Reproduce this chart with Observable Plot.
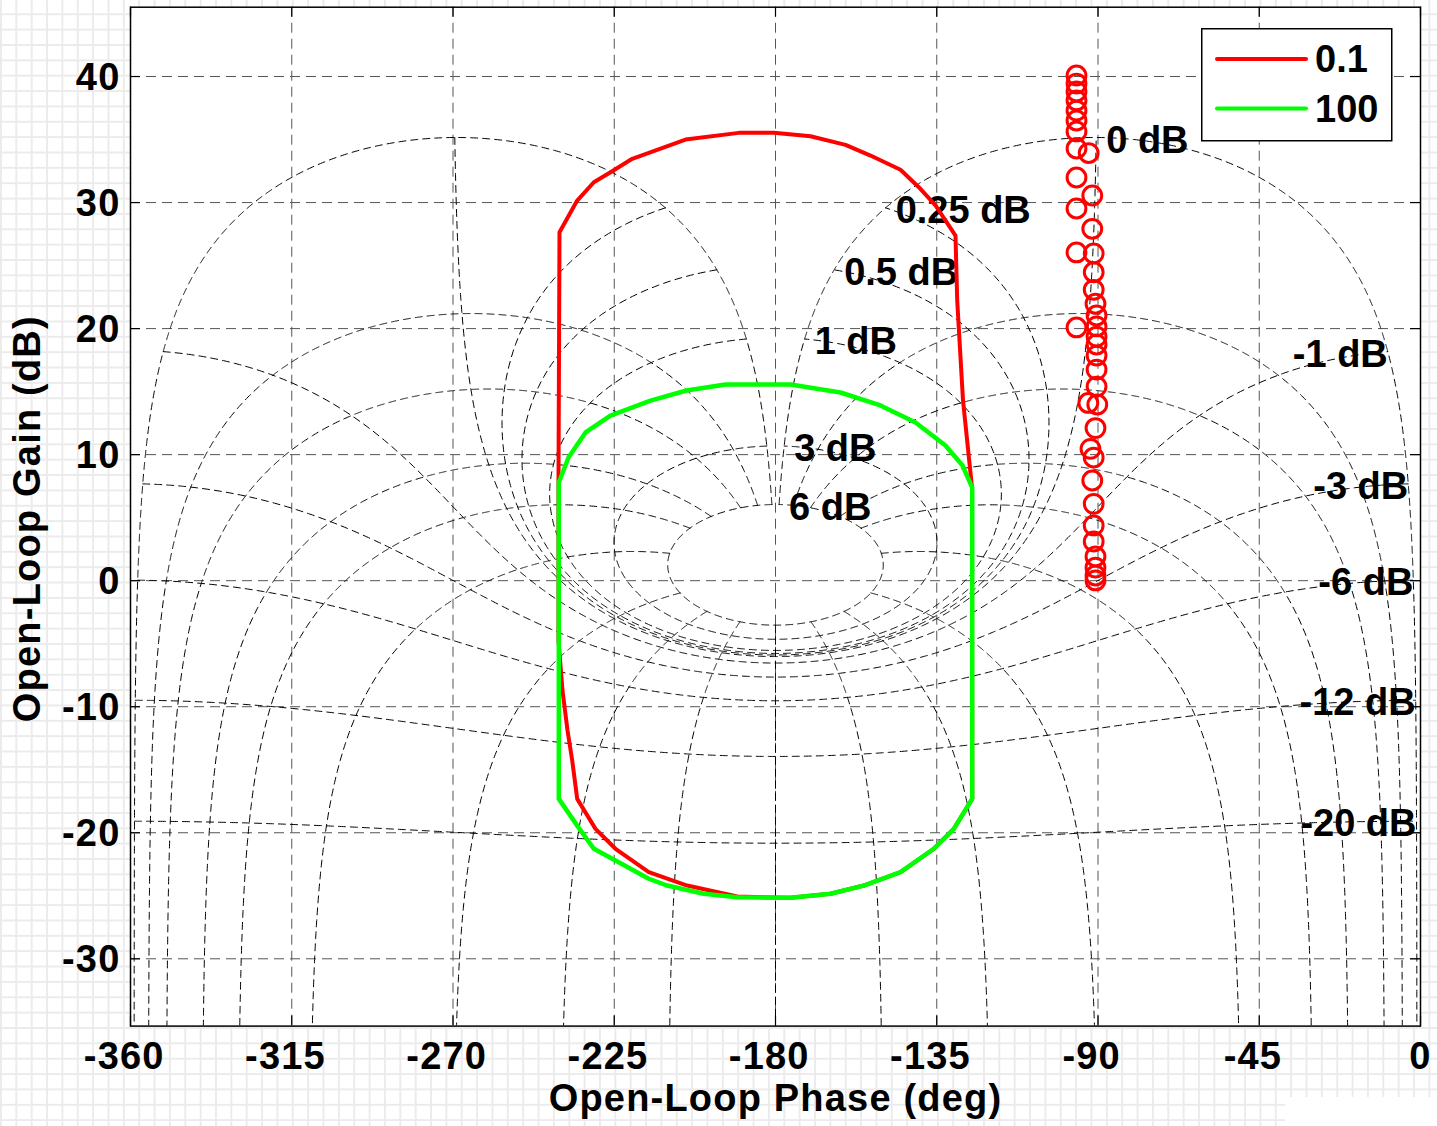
<!DOCTYPE html>
<html>
<head>
<meta charset="utf-8">
<script src="https://cdn.jsdelivr.net/npm/d3@7"></script>
<script src="https://cdn.jsdelivr.net/npm/@observablehq/plot@0.6"></script>
<style>
html,body{margin:0;padding:0;}
body{width:1437px;height:1126px;position:relative;overflow:hidden;background-color:#fff;
background-image:linear-gradient(to right,#ebebeb 2px,transparent 2px),linear-gradient(to bottom,#ebebeb 2px,transparent 2px);
background-size:15.37px 15.37px;background-position:0 13.3px;}
#chart{position:absolute;left:0;top:0;}
#legend{position:absolute;left:1201px;top:28px;}
#cover{position:absolute;left:1285px;top:1097px;width:152px;height:29px;background:#fff;}
</style>
</head>
<body>
<div id="cover"></div>
<div id="chart"></div>
<div id="legend"></div>
<script>
// ---------- data ----------
const seriesNames = ["0.1", "100"];
const xTicks = [-360, -315, -270, -225, -180, -135, -90, -45, 0];
const yTicks = [-30, -20, -10, 0, 10, 20, 30, 40];

// series "0.1" (red) – open-loop phase (deg) / gain (dB)
const redPhase = [-240.28,-235.34,-230.70,-225.57,-219.99,-205.11,-190.24,-180.47,-170.23,-160.46,-153.49,-145.11,-140.01,-135.35,-129.77,-129.29,-127.67,-125.16,-125.10,-130.24,-135.82,-145.11,-155.36,-164.65,-175.81,-180.47,-190.69,-204.64,-215.36,-224.65,-230.23,-235.34,-236.73,-238.04,-239.44,-240.56,-240.56,-240.28];
const redGain  = [27.65,30.16,31.61,32.49,33.47,35.00,35.53,35.53,35.26,34.58,33.73,32.60,31.22,29.77,27.38,22.23,14.29,7.39,-17.31,-19.69,-21.27,-23.13,-24.19,-24.84,-25.16,-25.14,-25.06,-24.19,-23.13,-21.27,-19.69,-17.31,-14.27,-11.89,-8.72,-4.75,7.95,27.65];

// series "100" (green)
const greenPhase = [-240.47,-237.77,-233.02,-226.05,-214.88,-204.84,-193.95,-175.81,-161.86,-150.70,-140.93,-132.56,-127.81,-125.10,-125.10,-130.24,-135.82,-145.11,-155.36,-164.65,-175.81,-180.47,-190.69,-200.01,-210.22,-215.36,-224.65,-230.70,-235.34,-240.47,-240.47];
const greenGain  = [7.79,9.77,11.76,13.10,14.29,15.09,15.56,15.56,14.93,13.90,12.55,10.72,9.14,7.39,-17.31,-19.69,-21.27,-23.13,-24.19,-24.84,-25.16,-25.16,-25.11,-24.84,-24.19,-23.65,-22.20,-21.27,-19.43,-17.31,7.79];

// red circle markers
const circlePhase = [-96.0,-96.0,-96.0,-96.0,-96.0,-96.0,-96.0,-96.0,-96.0,-96.0,-96.0,-96.0,
  -92.6,-91.6,-91.6,-91.2,-91.2,-91.2,-90.7,-90.4,-90.4,-90.4,-90.4,-90.4,-90.4,-90.4,-92.7,-90.2,-90.7,-92.1,-91.2,-91.6,-91.2,-91.2,-91.2,-90.7,-90.7,-90.7,-90.7];
const circleGain = [40.08,39.44,38.81,38.10,37.30,36.51,35.64,34.29,31.99,29.53,26.04,20.09,
  33.93,30.56,27.92,25.96,24.47,23.08,21.97,21.04,20.17,19.37,18.74,17.86,16.75,15.40,14.10,13.98,12.11,10.46,9.77,7.95,6.10,4.38,3.11,1.92,1.04,0.41,0.02];

// Nichols chart grid levels (closed-loop phase in deg, closed-loop gain in dB)
const clPhaseLevels = [1, 5, 10, 20, 30, 50, 90, 120, 150, 180];
const clGainLevels = [6, 3, 1, 0.5, 0.25, 0, -1, -3, -6, -12, -20, -40];

// ---------- build ----------
const FONT = '"Liberation Sans", Arial, Helvetica, sans-serif';
const red = redPhase.map((p, i) => ({x: p, y: redGain[i]}));
const green = greenPhase.map((p, i) => ({x: p, y: greenGain[i]}));
const circles = circlePhase.map((p, i) => ({x: p, y: circleGain[i]}));

const rad = Math.PI / 180;
function openLoop(mag, pDeg) {
  const p = pDeg * rad;
  const wr = 1 - mag * Math.cos(p), wi = -mag * Math.sin(p);
  const gain = 20 * Math.log10(mag / Math.hypot(wr, wi));
  let ph = (pDeg - Math.atan2(wi, wr) / rad) % 360;
  if (ph < 0) ph += 360;
  return {ph, gain};
}
const gSamples = [...d3.range(6, 1, -0.05), ...d3.range(1, -1, -0.002), ...d3.range(-1, -6, -0.02), ...d3.range(-6, -40, -0.2), -40];
const pSamples = [...d3.range(1, 5, 0.1), ...d3.range(5, 355, 0.5), ...d3.range(355, 359, 0.1), 359];
const grid = [];
clPhaseLevels.forEach((p) => {
  gSamples.forEach((g) => {
    const o = openLoop(Math.pow(10, g / 20), p);
    grid.push({id: "pa" + p, x: o.ph - 360, y: o.gain});
  });
  gSamples.forEach((g) => {
    const o = openLoop(Math.pow(10, g / 20), p);
    grid.push({id: "pb" + p, x: -o.ph, y: o.gain});
  });
});
clGainLevels.forEach((m) => {
  pSamples.forEach((p) => {
    const o = openLoop(Math.pow(10, m / 20), p);
    grid.push({id: "g" + m, x: o.ph - 360, y: o.gain});
  });
});
const yDomain = [-35.34, 45.5];
const gridLabels = clGainLevels.map((m) => {
  const o = openLoop(Math.pow(10, m / 20), 359);
  return {x: o.ph - 360, y: o.gain, text: m + " dB", pos: m >= 0};
}).filter((d) => d.y > yDomain[0] && d.y < yDomain[1]);

const frameH = 1126 - 6.7 - 100.4, frameW = 1437 - 130 - 17;
const txt = {fontSize: 38, fontWeight: "bold", fill: "black", fontFamily: FONT};
const axTxt = {...txt, ariaDescription: "spaced"};

const chart = Plot.plot({
  width: 1437, height: 1126,
  marginLeft: 130, marginRight: 17, marginTop: 6.7, marginBottom: 100.4,
  x: {domain: [-360, 0], axis: null},
  y: {domain: yDomain, axis: null},
  style: {background: "transparent", fontFamily: FONT, overflow: "visible"},
  marks: [
    Plot.frame({fill: "white", stroke: "none"}),
    Plot.ruleX(xTicks, {stroke: "#555", strokeWidth: 1, strokeDasharray: "10,6"}),
    Plot.ruleY(yTicks, {stroke: "#555", strokeWidth: 1, strokeDasharray: "10,6"}),
    Plot.line(grid, {x: "x", y: "y", z: "id", stroke: "black", strokeWidth: 1, strokeDasharray: "7,5", clip: true}),
    Plot.text(gridLabels.filter(d => d.pos), {x: "x", y: "y", text: "text", textAnchor: "start", dx: 10, dy: 3, ...txt}),
    Plot.text(gridLabels.filter(d => !d.pos), {x: "x", y: "y", text: "text", textAnchor: "end", dx: 0, dy: 3, ...txt}),
    Plot.line(red, {x: "x", y: "y", stroke: "#ff0000", strokeWidth: 4, clip: true}),
    Plot.line(green, {x: "x", y: "y", stroke: "#00ff00", strokeWidth: 4.5, clip: true}),
    Plot.dot(circles, {x: "x", y: "y", r: 9.4, stroke: "#ff0000", strokeWidth: 3, fill: "none"}),
    // tick marks inside the box
    Plot.ruleX(xTicks, {stroke: "black", strokeWidth: 1.2, insetTop: frameH - 10}),
    Plot.ruleX(xTicks, {stroke: "black", strokeWidth: 1.2, insetBottom: frameH - 10}),
    Plot.ruleY(yTicks, {stroke: "black", strokeWidth: 1.2, insetRight: frameW - 10}),
    Plot.ruleY(yTicks, {stroke: "black", strokeWidth: 1.2, insetLeft: frameW - 10}),
    Plot.frame({stroke: "black", strokeWidth: 1.5}),
    // tick labels
    Plot.text(xTicks.filter(d => d < 0), {x: d => d, text: d => String(d), frameAnchor: "bottom", dy: 30.5, dx: -6.3, textAnchor: "middle", lineAnchor: "middle", ...axTxt}),
    Plot.text(xTicks.filter(d => d >= 0), {x: d => d, text: d => String(d), frameAnchor: "bottom", dy: 30.5, textAnchor: "middle", lineAnchor: "middle", ...axTxt}),
    Plot.text(yTicks, {y: d => d, text: d => String(d), frameAnchor: "left", dx: -10, dy: 1, textAnchor: "end", lineAnchor: "middle", ...axTxt}),
    // axis titles
    Plot.text(["Open-Loop Phase (deg)"], {text: d => d, frameAnchor: "bottom", dy: 72.4, textAnchor: "middle", lineAnchor: "middle", ...axTxt}),
    Plot.text(["Open-Loop Gain (dB)"], {text: d => d, frameAnchor: "left", dx: -103, dy: 2, rotate: -90, textAnchor: "middle", lineAnchor: "middle", ...axTxt})
  ]
});
d3.select(chart).selectAll('[aria-description="spaced"] text').style("letter-spacing", "1.2px");
document.getElementById("chart").append(chart);

// legend
const lg = d3.select("#legend").append("svg").attr("width", 192).attr("height", 115)
  .style("font-family", FONT).style("overflow", "visible");
lg.append("rect").attr("x", 0.75).attr("y", 0.75).attr("width", 190).attr("height", 112)
  .attr("fill", "white").attr("stroke", "black").attr("stroke-width", 1.5);
const legendColors = ["#ff0000", "#00ff00"];
seriesNames.forEach((name, i) => {
  const cy = 31 + i * 49.5;
  lg.append("line").attr("x1", 16).attr("x2", 105).attr("y1", cy).attr("y2", cy)
    .attr("stroke", legendColors[i]).attr("stroke-width", 4).attr("stroke-linecap", "round");
  lg.append("text").attr("x", 114).attr("y", cy).attr("dy", "0.35em")
    .attr("font-size", 38).attr("font-weight", "bold").text(name);
});
</script>
</body>
</html>
